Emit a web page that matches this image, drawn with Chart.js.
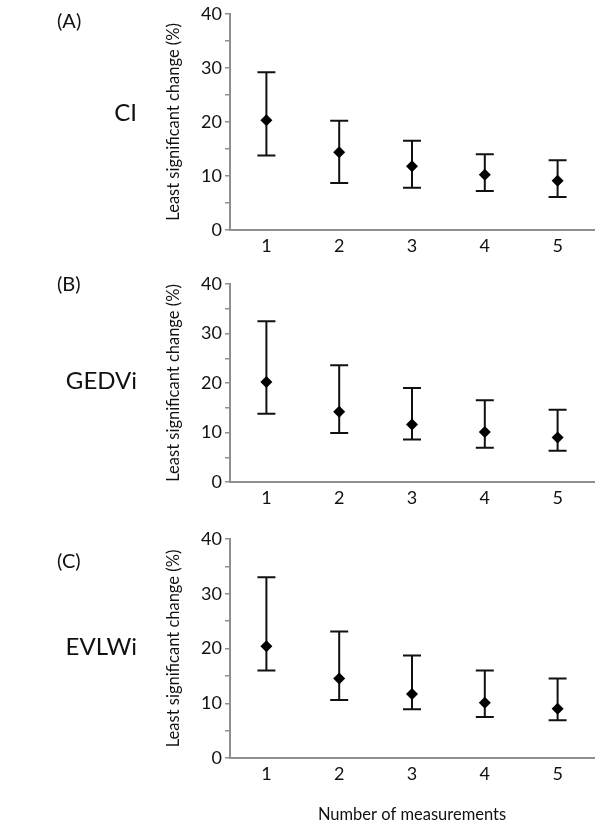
<!DOCTYPE html>
<html>
<head>
<meta charset="utf-8">
<script src="https://cdn.jsdelivr.net/npm/chart.js@4/dist/chart.umd.min.js"></script>
<style>
  html, body { margin: 0; padding: 0; background: #fff; }
  #wrap { position: relative; width: 600px; height: 833px; font-family: Lato, "Open Sans", sans-serif; color: #111; }
  canvas { position: absolute; left: 0; }
  .plab { position: absolute; font-size: 20px; line-height: 24px; }
  .vlab { position: absolute; font-size: 24px; line-height: 28px; text-align: right; width: 137px; left: 0; }
</style>
</head>
<body>
<div id="wrap">
  <canvas id="cA" width="600" height="260" style="top:0px"></canvas>
  <canvas id="cB" width="600" height="250" style="top:260px"></canvas>
  <canvas id="cC" width="600" height="323" style="top:510px"></canvas>
  <div class="plab" style="left:57px; top:8px">(A)</div>
  <div class="plab" style="left:57px; top:271px">(B)</div>
  <div class="plab" style="left:57px; top:548px">(C)</div>
  <div class="vlab" style="top:98px">CI</div>
  <div class="vlab" style="top:366px">GEDVi</div>
  <div class="vlab" style="top:632px">EVLWi</div>
</div>
<script>
// ---- data ----
const categories = ['1', '2', '3', '4', '5'];
const yTickValues = [0, 10, 20, 30, 40];

const ciMean  = [20.3, 14.4, 11.8, 10.2, 9.1];
const ciUpper = [29.2, 20.2, 16.5, 14.0, 12.9];
const ciLower = [13.8, 8.7, 7.8, 7.2, 6.1];

const gedviMean  = [20.2, 14.2, 11.6, 10.1, 9.0];
const gedviUpper = [32.5, 23.6, 19.0, 16.5, 14.6];
const gedviLower = [13.8, 9.9, 8.6, 6.9, 6.3];

const evlwiMean  = [20.4, 14.5, 11.7, 10.1, 9.0];
const evlwiUpper = [33.0, 23.1, 18.7, 16.0, 14.5];
const evlwiLower = [16.0, 10.6, 8.9, 7.5, 6.9];

const yTitle = 'Least significant change (%)';
const xTitle = 'Number of measurements';

// ---- drawing ----
const FONT = 'Lato, "Open Sans", sans-serif';
const AXIS = '#8f8f8f';

const errorBars = {
  id: 'errorBars',
  beforeDatasetsDraw(chart, args, opts) {
    const ctx = chart.ctx;
    const xs = chart.scales.x, ys = chart.scales.y;
    ctx.save();
    ctx.strokeStyle = '#111';
    ctx.lineWidth = 2;
    opts.lower.forEach((lo, i) => {
      const hi = opts.upper[i];
      const x = xs.getPixelForValue(i);
      const yl = ys.getPixelForValue(lo);
      const yh = ys.getPixelForValue(hi);
      ctx.beginPath();
      ctx.moveTo(x, yl); ctx.lineTo(x, yh);
      ctx.moveTo(x - 9, yl); ctx.lineTo(x + 9, yl);
      ctx.moveTo(x - 9, yh); ctx.lineTo(x + 9, yh);
      ctx.stroke();
    });
    ctx.restore();
  }
};

function makeChart(id, mean, upper, lower, padTop, xHeight, withTitle) {
  return new Chart(document.getElementById(id), {
    type: 'line',
    data: {
      labels: categories,
      datasets: [{
        data: mean,
        showLine: false,
        pointStyle: 'rectRot',
        pointRadius: 6,
        pointHoverRadius: 6,
        backgroundColor: '#000',
        borderColor: '#000',
        borderWidth: 0
      }]
    },
    options: {
      responsive: false,
      animation: false,
      events: [],
      layout: { padding: { top: padTop, left: 150, right: 1, bottom: 0 } },
      plugins: {
        legend: { display: false },
        tooltip: { enabled: false },
        errorBars: { upper: upper, lower: lower }
      },
      scales: {
        x: {
          type: 'category',
          offset: true,
          grid: { display: true, drawOnChartArea: false, drawTicks: false },
          border: { display: true, color: AXIS, width: 2 },
          ticks: { color: '#111', font: { family: FONT, size: 18 }, padding: 5, maxRotation: 0 },
          title: {
            display: withTitle, text: xTitle, color: '#111',
            font: { family: FONT, size: 16.5 }, padding: { top: 0, bottom: 8 }
          },
          afterFit(scale) { scale.height = xHeight; }
        },
        y: {
          min: 0, max: 40,
          grid: { display: true, drawOnChartArea: false, drawTicks: true, tickLength: 5, color: AXIS, lineWidth: 1.5 },
          border: { display: true, color: AXIS, width: 2 },
          ticks: {
            stepSize: 5, color: '#111', font: { family: FONT, size: 18 }, padding: 3,
            callback: (v) => (yTickValues.includes(v) ? String(v) : '')
          },
          title: {
            display: true, text: yTitle, color: '#111',
            font: { family: FONT, size: 16.5 }, padding: { top: 14, bottom: 0 }
          },
          afterFit(scale) { scale.width = 80; }
        }
      }
    },
    plugins: [errorBars]
  });
}

makeChart('cA', ciMean, ciUpper, ciLower, 12, 30, false);
makeChart('cB', gedviMean, gedviUpper, gedviLower, 24, 28, false);
makeChart('cC', evlwiMean, evlwiUpper, evlwiLower, 29, 75, true);
</script>
</body>
</html>
